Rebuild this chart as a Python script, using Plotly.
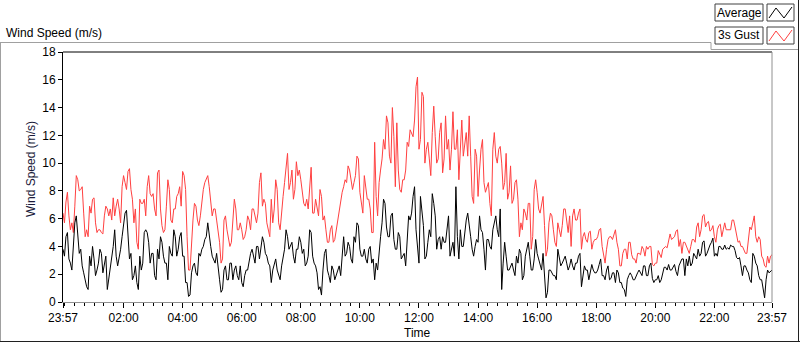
import pandas as pd
import plotly.graph_objects as go

# ---------------- data ----------------
# readings every 6 minutes starting 23:57, plus the readings halfway between them
start_time = "2013-05-01 23:57"

gust_on_6min = [
    6.4, 7.2, 6.2, 5.7, 6.9, 8.8, 8.1, 6.4, 5.2, 6.9, 7.4, 5.7, 5.2, 5.0, 6.2, 6.7, 6.7, 7.5, 6.9, 6.7,
    8.3, 8.6, 9.4, 8.1, 5.7, 4.3, 7.4, 7.1, 6.2, 9.1, 7.6, 6.7, 9.3, 6.7, 5.0,
    6.9, 8.1, 5.7, 6.7, 7.8, 6.9, 9.1, 4.7, 2.3, 5.9, 6.9, 5.5, 7.4, 8.6, 9.1, 7.4, 6.7, 5.9, 4.3, 3.1,
    6.2, 4.7, 4.3, 7.4, 5.2, 5.7, 4.5, 5.2, 5.9, 6.7, 6.2, 6.4, 9.3, 7.4, 5.7, 4.7,
    5.7, 8.8, 5.7, 6.7, 8.6, 10.7, 8.6, 7.4, 10.1, 9.5, 8.1, 6.9, 6.7, 9.7, 6.4, 6.7, 8.1, 5.9, 5.2, 4.3,
    5.5, 4.5, 5.7, 7.1, 8.3, 8.6, 9.5, 8.1, 9.1, 10.3, 7.1, 9.1, 7.4, 6.7, 5.0,
    7.6, 8.6, 10.3, 11.0, 12.9, 10.0, 11.9, 12.9, 8.1, 8.8, 9.5, 11.2, 12.2, 13.1, 16.2, 11.7, 14.8, 11.0,
    10.3, 12.2, 11.9, 10.3, 12.9, 10.3, 11.0, 9.5, 13.7, 11.0, 8.8, 13.1, 11.5, 10.5, 10.5, 7.1, 10.5,
    9.5, 11.7, 7.9, 8.6, 6.2, 12.2, 10.0, 11.2, 8.1, 10.7, 7.9, 7.1, 8.6, 7.4, 5.7, 6.7, 5.9, 7.1, 4.7,
    8.8, 6.7, 6.9, 5.5, 3.8, 6.4, 5.2, 4.0, 5.2, 5.5, 6.7, 5.0, 4.0, 6.7, 5.9, 6.7,
    4.7, 4.5, 5.0, 3.8, 4.5, 4.7, 5.3, 3.3, 3.8, 4.7, 4.5, 5.2, 3.8, 2.6, 3.8, 3.1, 4.3, 3.1, 2.8, 3.5,
    4.0, 3.3, 3.8, 4.0, 2.6, 2.8, 3.4, 3.8, 4.0, 4.4, 4.5, 4.7, 5.2, 4.5, 4.3,
    4.0, 3.5, 4.5, 4.3, 5.7, 5.2, 6.3, 5.7, 5.1, 5.5, 4.3, 5.5, 4.7, 5.7, 5.2, 5.2, 5.9, 4.7, 4.4, 4.0,
    3.5, 4.7, 5.2, 6.2, 4.3, 4.5, 3.1, 2.5, 2.8, 3.4,
]
gust_between = [
    5.7, 7.9, 5.2, 5.0, 9.1, 8.0, 8.3, 4.7, 4.7, 6.4, 7.5, 5.0, 5.2, 4.9, 6.9, 6.2, 5.9, 6.2, 7.4, 5.7,
    9.1, 8.1, 9.6, 7.4, 6.7, 3.8, 7.1, 7.4, 8.3, 7.8, 7.8, 6.2, 9.5, 5.5, 5.2,
    8.8, 5.9, 6.7, 7.6, 8.3, 9.4, 8.1, 2.3, 4.7, 7.1, 5.9, 6.2, 8.1, 8.8, 8.3, 6.2, 6.7, 5.2, 2.8, 5.9,
    5.2, 4.0, 5.7, 6.7, 5.2, 5.2, 4.7, 6.2, 5.2, 6.7, 5.7, 8.6, 6.9, 7.1, 5.2,
    7.4, 6.7, 8.1, 5.2, 7.6, 9.5, 8.1, 9.5, 8.1, 9.1, 8.8, 7.1, 7.4, 8.1, 6.4, 7.4, 6.2, 7.6, 6.2, 4.3,
    5.2, 4.3, 5.2, 6.4, 7.9, 8.8, 9.8, 8.8, 8.6, 10.5, 7.9, 6.4, 8.1, 7.4, 5.0,
    11.5, 6.2, 9.5, 11.7, 13.4, 10.5, 14.0, 8.3, 9.5, 7.9, 8.8, 11.5, 12.4, 11.9, 15.5, 11.0, 15.1, 10.0,
    11.5, 9.1, 14.1, 10.0, 12.2, 9.3, 13.4, 11.7, 11.0, 11.0, 12.4, 11.0, 10.5, 12.2, 13.4, 7.6, 11.0,
    7.6, 11.0, 8.6, 8.3, 7.1, 11.0, 10.5, 11.0, 10.0, 8.6, 7.4, 9.8, 7.4, 8.8, 4.7, 5.2, 6.4, 7.1, 3.8,
    8.1, 7.9, 6.4, 7.6, 3.3, 5.7, 6.2, 4.3, 5.7, 4.7, 6.7, 5.9, 6.2, 6.2, 5.9, 6.4,
    3.8, 5.0, 4.3, 5.1, 4.3, 4.5, 5.2, 4.0, 2.8, 4.5, 4.7, 4.9, 4.3, 2.6, 3.5, 3.8, 4.3, 3.4, 3.1, 3.5,
    3.4, 3.8, 4.0, 4.0, 2.7, 2.8, 3.7, 3.2, 3.9, 3.9, 4.9, 4.6, 5.1, 4.0, 3.5,
    4.3, 3.8, 4.0, 4.5, 5.4, 4.7, 6.2, 5.4, 5.8, 5.2, 4.7, 5.2, 5.6, 5.2, 5.2, 5.2, 5.9, 5.4, 4.3, 4.0,
    3.8, 3.5, 5.4, 5.7, 4.7, 4.7, 3.3, 2.6, 3.3, 3.3,
]

avg_on_6min = [
    3.8, 4.7, 3.1, 2.3, 5.7, 4.7, 3.8, 2.1, 1.1, 3.3, 4.0, 1.9, 2.8, 3.5, 2.6, 0.9, 2.3, 4.0, 3.3, 3.1,
    4.7, 6.4, 4.7, 3.5, 1.9, 1.4, 3.3, 2.8, 5.2, 4.3, 3.5, 1.9, 3.8, 4.7, 3.3,
    2.8, 4.0, 3.3, 4.7, 3.8, 5.0, 3.3, 1.4, 0.5, 2.6, 2.1, 3.5, 3.8, 4.5, 5.7, 4.0, 3.1, 3.5, 1.6, 0.9,
    2.6, 1.6, 2.8, 2.3, 1.9, 2.6, 1.1, 2.3, 3.1, 3.8, 2.8, 4.0, 3.8, 4.3, 3.3, 2.6,
    2.3, 3.1, 1.9, 2.6, 3.8, 4.7, 4.0, 3.3, 3.8, 4.7, 3.5, 2.6, 3.3, 5.0, 2.8, 2.1, 1.1, 2.3, 3.8, 1.9,
    2.6, 1.6, 2.3, 1.9, 4.7, 3.5, 4.0, 2.8, 4.3, 5.5, 3.3, 3.8, 2.8, 4.0, 3.1,
    2.8, 3.8, 5.7, 7.1, 4.7, 6.2, 4.5, 3.8, 4.7, 3.3, 2.6, 6.2, 6.4, 8.3, 4.0, 7.6, 5.5, 3.3, 5.2, 7.8,
    6.2, 4.5, 3.8, 4.3, 5.2, 3.3, 4.3, 8.3, 3.1, 4.0, 5.0, 6.4, 4.7, 3.3, 4.5,
    6.2, 5.0, 2.3, 4.5, 3.8, 5.7, 5.2, 6.7, 2.8, 3.3, 2.3, 2.8, 1.9, 2.8, 3.5, 1.9, 3.8, 3.3, 2.3, 4.5,
    3.1, 2.3, 2.1, 0.7, 2.3, 1.9, 1.6, 3.1, 2.8, 3.3, 2.3, 3.1, 2.3, 2.8, 3.5,
    1.9, 2.3, 1.6, 2.7, 2.1, 2.3, 3.1, 1.9, 2.3, 1.6, 2.1, 1.4, 2.1, 1.4, 0.9, 1.6, 2.1, 1.6, 1.9, 2.3,
    1.9, 2.6, 1.9, 2.8, 1.4, 1.6, 1.4, 2.2, 2.5, 2.7, 2.3, 2.7, 1.9, 2.8, 3.1,
    3.1, 3.3, 2.8, 3.3, 3.8, 3.5, 4.4, 3.5, 4.1, 4.6, 3.5, 4.0, 3.8, 4.1, 3.9, 4.1, 4.0, 3.2, 3.2, 1.9,
    2.6, 2.1, 1.4, 3.3, 2.6, 1.6, 0.9, 1.6, 2.1, 2.3,
]
avg_between = [
    3.3, 5.0, 2.8, 3.9, 6.2, 3.5, 2.6, 1.6, 0.9, 2.6, 3.1, 2.3, 3.8, 2.1, 3.3, 1.6, 3.1, 5.2, 2.6, 3.8,
    5.5, 6.6, 3.1, 1.6, 2.6, 0.9, 2.3, 5.0, 5.0, 2.8, 3.5, 1.6, 3.1, 4.3, 2.8,
    1.6, 3.5, 5.2, 3.3, 4.7, 3.3, 1.4, 0.4, 2.1, 2.8, 1.9, 3.3, 4.0, 4.7, 4.7, 3.3, 2.8, 2.3, 0.7, 2.3,
    1.6, 2.8, 1.6, 2.6, 1.6, 1.4, 1.9, 2.3, 3.5, 3.3, 4.0, 3.1, 4.7, 3.5, 2.8,
    1.4, 2.8, 2.3, 1.6, 3.3, 5.2, 3.8, 4.3, 2.8, 3.8, 4.3, 3.8, 2.8, 5.2, 3.3, 2.6, 0.9, 0.5, 3.5, 2.3,
    1.4, 2.3, 1.9, 2.6, 3.3, 3.3, 4.3, 3.1, 4.7, 5.7, 3.8, 3.3, 3.1, 3.8, 2.8,
    1.6, 2.3, 4.7, 7.4, 5.4, 4.7, 6.4, 3.8, 5.0, 3.1, 3.5, 4.7, 5.9, 7.6, 5.2, 2.8, 6.7, 3.1, 4.3, 4.7,
    7.1, 3.8, 4.7, 4.7, 4.3, 6.2, 3.8, 3.3, 4.7, 5.2, 4.0, 5.9, 5.7, 3.8, 4.0,
    4.3, 5.2, 3.8, 4.5, 4.0, 5.2, 6.2, 4.7, 0.9, 4.3, 2.3, 2.6, 2.3, 3.3, 3.8, 1.6, 3.3, 4.3, 2.3, 3.1,
    3.5, 2.6, 3.5, 0.3, 2.3, 2.1, 1.9, 3.8, 2.6, 3.1, 2.8, 2.6, 2.6, 2.8, 3.3,
    1.1, 2.6, 2.3, 2.1, 2.3, 2.1, 2.7, 1.9, 1.6, 2.6, 1.7, 2.1, 2.3, 1.4, 1.0, 0.4, 1.9, 1.9, 1.6, 2.1,
    2.1, 2.6, 1.9, 2.6, 1.7, 1.6, 1.9, 1.6, 2.5, 2.3, 2.3, 2.5, 2.2, 2.6, 3.1,
    1.9, 2.6, 2.6, 3.5, 3.1, 3.3, 4.3, 3.3, 3.9, 4.3, 3.3, 3.3, 4.0, 3.8, 3.8, 3.8, 4.0, 3.7, 3.1, 2.6,
    2.6, 2.3, 1.6, 3.5, 2.8, 1.9, 1.6, 0.3, 2.3, 2.2,
]

tick_times = [
    "2013-05-01 23:57", "2013-05-02 02:00", "2013-05-02 04:00", "2013-05-02 06:00",
    "2013-05-02 08:00", "2013-05-02 10:00", "2013-05-02 12:00", "2013-05-02 14:00",
    "2013-05-02 16:00", "2013-05-02 18:00", "2013-05-02 20:00", "2013-05-02 22:00",
    "2013-05-02 23:57",
]
tick_labels = ["23:57", "02:00", "04:00", "06:00", "08:00", "10:00", "12:00", "14:00",
               "16:00", "18:00", "20:00", "22:00", "23:57"]
y_ticks = [0, 2, 4, 6, 8, 10, 12, 14, 16, 18]

series_names = ["Average", "3s Gust"]
series_colors = ["#000000", "#ff4040"]


def merge(on_grid, between):
    out = []
    for a, b in zip(on_grid, between):
        out.extend([a, b])
    out.append(on_grid[-1])
    return out


gust_3s = merge(gust_on_6min, gust_between)
average = merge(avg_on_6min, avg_between)
times = pd.date_range(start=start_time, periods=len(gust_3s), freq="3min")

# ---------------- figure ----------------
FONT = "Liberation Sans, Arial, sans-serif"
W, H = 800, 342
L, R, T, B = 63, 28, 52, 40
PW, PH = W - L - R, H - T - B


def px(x):
    return (x - L) / PW


def py(y):
    return (H - B - y) / PH


fig = go.Figure()
fig.add_trace(go.Scatter(x=times, y=gust_3s, mode="lines", name=series_names[1],
                         line=dict(color=series_colors[1], width=1), showlegend=False,
                         hoverinfo="skip"))
fig.add_trace(go.Scatter(x=times, y=average, mode="lines", name=series_names[0],
                         line=dict(color=series_colors[0], width=1), showlegend=False,
                         hoverinfo="skip"))

shapes = []
shapes.append(dict(type="line", xref="paper", yref="paper", x0=0, x1=1, y0=1, y1=1,
                   line=dict(color="#000000", width=1)))
shapes.append(dict(type="line", xref="paper", yref="paper", x0=1, x1=1, y0=0, y1=1,
                   line=dict(color="#909090", width=1)))

gray = "#a0a0a0"
shapes.append(dict(type="line", xref="paper", yref="paper", x0=px(0.5), x1=px(0.5), y0=py(42), y1=py(342),
                   line=dict(color=gray, width=1)))
shapes.append(dict(type="line", xref="paper", yref="paper", x0=px(0), x1=px(711), y0=py(42.5), y1=py(42.5),
                   line=dict(color=gray, width=1)))
shapes.append(dict(type="line", xref="paper", yref="paper", x0=px(711), x1=px(711), y0=py(42.5), y1=py(49.5),
                   line=dict(color=gray, width=1)))
shapes.append(dict(type="line", xref="paper", yref="paper", x0=px(711), x1=px(799), y0=py(49.5), y1=py(49.5),
                   line=dict(color=gray, width=1)))
shapes.append(dict(type="line", xref="paper", yref="paper", x0=px(798.5), x1=px(798.5), y0=py(0), y1=py(342),
                   line=dict(color="#202020", width=1)))
shapes.append(dict(type="line", xref="paper", yref="paper", x0=px(0), x1=px(800), y0=py(341.5), y1=py(341.5),
                   line=dict(color="#202020", width=1)))

annotations = []
for i, (name, col) in enumerate(zip(series_names, series_colors)):
    y0 = 4 + i * 23
    y1 = y0 + 17
    shapes.append(dict(type="rect", xref="paper", yref="paper", x0=px(715), x1=px(763), y0=py(y1), y1=py(y0),
                       line=dict(color="#404040", width=1), fillcolor="white"))
    shapes.append(dict(type="rect", xref="paper", yref="paper", x0=px(767), x1=px(794), y0=py(y1), y1=py(y0),
                       line=dict(color="#404040", width=1), fillcolor="white"))
    pts = [(769, y1 - 3), (776, y0 + 4), (784, y1 - 3), (792, y0 + 3)]
    path = "M " + " L ".join(f"{px(a):.5f},{py(b):.5f}" for a, b in pts)
    shapes.append(dict(type="path", xref="paper", yref="paper", path=path,
                       line=dict(color=col, width=1)))
    annotations.append(dict(text=name, xref="paper", yref="paper", x=px(739), y=py((y0 + y1) / 2),
                            xanchor="center", yanchor="middle", showarrow=False,
                            font=dict(family=FONT, size=12, color="#000000")))

annotations.append(dict(text="Wind Speed (m/s)", xref="paper", yref="paper", x=px(4), y=py(33),
                        xanchor="left", yanchor="middle", showarrow=False,
                        font=dict(family=FONT, size=12, color="#000000")))
annotations.append(dict(text="Wind Speed (m/s)", xref="paper", yref="paper", x=px(31), y=py(169),
                        xanchor="center", yanchor="middle", showarrow=False, textangle=-90,
                        font=dict(family=FONT, size=12, color="#1a1a3a")))
annotations.append(dict(text="Time", xref="paper", yref="paper", x=px(417), y=py(333),
                        xanchor="center", yanchor="middle", showarrow=False,
                        font=dict(family=FONT, size=12, color="#000000")))

fig.update_layout(
    width=W, height=H,
    margin=dict(l=L, r=R, t=T, b=B, pad=0),
    paper_bgcolor="white", plot_bgcolor="white",
    font=dict(family=FONT, size=12, color="#000000"),
    shapes=shapes, annotations=annotations,
    showlegend=False,
    xaxis=dict(
        type="date", range=[tick_times[0], tick_times[-1]],
        tickmode="array", tickvals=tick_times, ticktext=tick_labels,
        ticks="outside", ticklen=5, tickcolor="#000000", tickwidth=1,
        showgrid=False, zeroline=False, showline=True, linecolor="#909090", linewidth=1,
        tickfont=dict(family=FONT, size=12, color="#000000"),
        minor=dict(ticks="outside", ticklen=3, tickcolor="#000000", tickwidth=1,
                   dtick=20 * 60 * 1000, tick0="2013-05-01 00:00", showgrid=False),
        fixedrange=True,
    ),
    yaxis=dict(
        range=[0, 18], tickmode="array", tickvals=y_ticks,
        ticks="outside", ticklen=4, tickcolor="#000000", tickwidth=1,
        showgrid=False, zeroline=False, showline=True, linecolor="#000000", linewidth=1,
        tickfont=dict(family=FONT, size=12, color="#000000"),
        fixedrange=True,
    ),
)

fig.write_html("out.html", config={"displayModeBar": False},
               post_script="document.body.style.margin='0';document.body.style.overflow='hidden';")
